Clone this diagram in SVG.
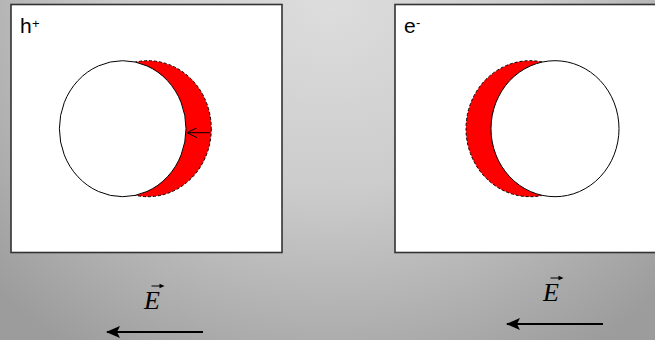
<svg xmlns="http://www.w3.org/2000/svg" width="655" height="340" viewBox="0 0 655 340">
<defs>
<radialGradient id="bg" gradientUnits="userSpaceOnUse" cx="330" cy="0" r="420" gradientTransform="translate(330 0) scale(1.1 1) translate(-330 0)">
<stop offset="0" stop-color="#dddddd"/>
<stop offset="0.45" stop-color="#cccccc"/>
<stop offset="1" stop-color="#9c9c9c"/>
</radialGradient>
<marker id="open" viewBox="0 0 10 10" refX="10" refY="5" markerWidth="10" markerHeight="10" markerUnits="userSpaceOnUse" orient="auto">
<path d="M0,0 L10,5 L0,10" fill="none" stroke="#000" stroke-width="1"/>
</marker>
<marker id="solid" viewBox="0 0 14 12" refX="13" refY="6" markerWidth="14" markerHeight="12" markerUnits="userSpaceOnUse" orient="auto">
<path d="M14,6 L0,0 L3,6 L0,12 Z" fill="#000"/>
</marker>
</defs>
<style>
.box{fill:#fff;stroke:#333;stroke-width:1.6}
.red{fill:#ff0000;stroke:#000;stroke-width:1;stroke-dasharray:3 2}
.wc{fill:#fff;stroke:#000;stroke-width:1}
.lbl{font-family:"Liberation Sans",Arial,sans-serif;fill:#000}
.ev{font-family:"Liberation Serif","Times New Roman",serif;font-style:italic;font-size:26px;fill:#000}
.ln{stroke:#000;fill:none}
</style>
<rect x="0" y="0" width="655" height="340" fill="url(#bg)"/>
<g id="hole">
<rect class="box" x="11" y="4.5" width="271" height="248"/>
<ellipse class="red" cx="148" cy="128.7" rx="63.3" ry="68"/>
<ellipse class="wc" cx="122.7" cy="128.7" rx="63.3" ry="68"/>
<text class="lbl" x="20" y="33" font-size="21">h</text>
<text class="lbl" x="32" y="28" font-size="13">+</text>
</g>
<g id="electron">
<rect class="box" x="395" y="4.5" width="270" height="248"/>
<ellipse class="red" cx="530" cy="128.7" rx="64" ry="68"/>
<ellipse class="wc" cx="555" cy="128.7" rx="64" ry="68"/>
<text class="lbl" x="404" y="33" font-size="21">e</text>
<text class="lbl" x="416" y="27" font-size="13">-</text>
</g>
<g id="field-left">
<text class="ev" x="144" y="309">E</text>
<line class="ln" x1="151.5" y1="286" x2="163" y2="286" stroke-width="1"/>
<path d="M164.5,286 L159.5,283.7 L159.5,288.3 Z" fill="#000"/>
</g>
<g id="field-right">
<text class="ev" x="543" y="301">E</text>
<line class="ln" x1="550.5" y1="278" x2="562" y2="278" stroke-width="1"/>
<path d="M563.5,278 L558.5,275.7 L558.5,280.3 Z" fill="#000"/>
</g>
<g id="connectors">
<line class="ln" x1="210" y1="132.7" x2="187" y2="132.7" stroke-width="1" marker-end="url(#open)"/>
<line class="ln" x1="203" y1="332" x2="107" y2="332" stroke-width="2.2" marker-end="url(#solid)"/>
<line class="ln" x1="603" y1="324" x2="507" y2="324" stroke-width="2.2" marker-end="url(#solid)"/>
</g>
</svg>
